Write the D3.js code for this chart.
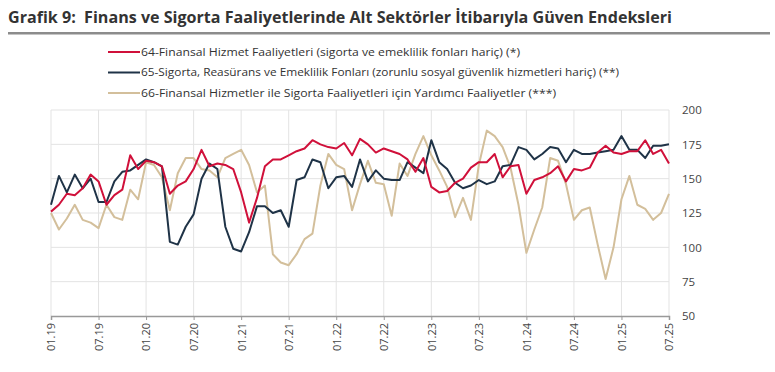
<!DOCTYPE html>
<html><head><meta charset="utf-8">
<script src="https://cdn.jsdelivr.net/npm/d3@7"></script>
<style>
html,body{margin:0;padding:0;background:#fff;}
svg{display:block;font-family:"Open Sans",sans-serif;}
</style></head>
<body><div id="chart"></div>
<script>
const months = [
"01.19","02.19","03.19","04.19","05.19","06.19","07.19","08.19","09.19","10.19","11.19","12.19",
"01.20","02.20","03.20","04.20","05.20","06.20","07.20","08.20","09.20","10.20","11.20","12.20",
"01.21","02.21","03.21","04.21","05.21","06.21","07.21","08.21","09.21","10.21","11.21","12.21",
"01.22","02.22","03.22","04.22","05.22","06.22","07.22","08.22","09.22","10.22","11.22","12.22",
"01.23","02.23","03.23","04.23","05.23","06.23","07.23","08.23","09.23","10.23","11.23","12.23",
"01.24","02.24","03.24","04.24","05.24","06.24","07.24","08.24","09.24","10.24","11.24","12.24",
"01.25","02.25","03.25","04.25","05.25","06.25","07.25"];
const tickLabels = ["01.19","07.19","01.20","07.20","01.21","07.21","01.22","07.22","01.23","07.23","01.24","07.24","01.25","07.25"];
const yTicks = [50,75,100,125,150,175,200];

const s64 = [126,131,139,138,143,153,148,131,138,142,167,157,
163,162,159,139,145,148,157,171,159,161,160,157,
140,118,136,159,164,164,167,170,172,178,175,173,
172,176,167,179,175,169,172,170,168,164,155,165,
144,140,141,147,150,158,162,162,168,151,159,160,
139,149,151,154,159,148,157,156,158,169,174,169,
168,170,170,178,168,171,161];
const s65 = [131,152,140,153,143,150,133,133,148,155,156,160,
164,162,159,104,102,115,124,150,161,157,115,99,
97,111,130,130,125,127,115,149,151,164,162,143,
151,152,144,164,148,156,150,149,149,162,158,154,
178,162,157,147,143,145,149,146,148,159,160,173,
171,164,168,173,172,162,171,168,168,169,170,171,
181,171,171,165,174,174,175];
const s66 = [125,113,121,131,120,118,114,131,122,120,142,135,
162,160,151,127,154,165,165,157,156,151,165,168,
171,160,140,145,95,89,87,95,106,110,145,168,
160,157,127,146,163,147,146,123,161,152,168,181,
167,156,144,122,136,120,160,185,181,173,158,131,
96,113,129,165,163,146,120,127,129,102,77,100,
135,152,131,128,120,125,139];

const seriesNames = [
"64-Finansal Hizmet Faaliyetleri (sigorta ve emeklilik fonları hariç) (*)",
"65-Sigorta, Reasürans ve Emeklilik Fonları (zorunlu sosyal güvenlik hizmetleri hariç) (**)",
"66-Finansal Hizmetler ile Sigorta Faaliyetleri için Yardımcı Faaliyetler (***)"];
const seriesValues = [s64, s65, s66];
const colors = ["#d0103a","#1f3347","#d3bf9b"];
const legendWidths = [379, 478, 415];

const W = 775, H = 372;
const svg = d3.select("#chart").append("svg").attr("width", W).attr("height", H);

// title
svg.append("text").attr("x", 8).attr("y", 23)
  .attr("font-size", 15.5).attr("font-weight", 700).attr("fill", "#333")
  .attr("textLength", 664).attr("lengthAdjust", "spacingAndGlyphs")
  .attr("xml:space", "preserve")
  .text("Grafik 9:  Finans ve Sigorta Faaliyetlerinde Alt Sektörler İtibarıyla Güven Endeksleri");
svg.append("rect").attr("x", 8).attr("y", 32).attr("width", 762).attr("height", 2.5).attr("fill", "#8c8c8c");

// legend
const lg = svg.append("g");
seriesNames.forEach((n, i) => {
  const yy = 51 + i * 20.5;
  lg.append("line").attr("x1", 108).attr("x2", 140).attr("y1", yy + 1).attr("y2", yy + 1)
    .attr("stroke", colors[i]).attr("stroke-width", 2);
  lg.append("text").attr("x", 141).attr("y", yy + 4.5).attr("font-size", 11.5).attr("fill", "#333")
    .attr("textLength", legendWidths[i]).attr("lengthAdjust", "spacingAndGlyphs").text(n);
});

const x = d3.scalePoint().domain(months).range([51, 669]);
const y = d3.scaleLinear().domain([50, 200]).range([316, 110]);

// grid
const g = svg.append("g");
g.selectAll("line.hg").data(yTicks.filter(v => v > 50)).enter().append("line")
  .attr("x1", 51).attr("x2", 669).attr("y1", d => y(d)).attr("y2", d => y(d))
  .attr("stroke", "#e3e3e3").attr("stroke-width", 1);
g.selectAll("line.vg").data(tickLabels).enter().append("line")
  .attr("x1", d => x(d)).attr("x2", d => x(d)).attr("y1", y(200)).attr("y2", y(50))
  .attr("stroke", "#e3e3e3").attr("stroke-width", 1);

// x axis
const xAxis = d3.axisBottom(x).tickValues(tickLabels).tickSize(4).tickPadding(4);
const xg = svg.append("g").attr("transform", `translate(0,${y(50)})`).call(xAxis);
xg.select(".domain").attr("stroke", "#999").attr("stroke-width", 1.5);
xg.selectAll(".tick line").attr("stroke", "#999");
xg.selectAll(".tick text").attr("font-size", 11).attr("fill", "#444")
  .attr("font-family", "Open Sans, sans-serif")
  .attr("transform", "rotate(-90)").attr("text-anchor", "end")
  .attr("x", -7).attr("y", 0).attr("dy", "0.35em");

// y axis (right)
const yAxis = d3.axisRight(y).tickValues(yTicks).tickSize(0).tickPadding(12);
const yg = svg.append("g").attr("transform", `translate(670,0)`).call(yAxis);
yg.select(".domain").remove();
yg.selectAll(".tick text").attr("font-size", 11.5).attr("fill", "#444").attr("font-family", "Open Sans, sans-serif");

// lines
const line = d3.line().x((d, i) => x(months[i])).y(d => y(d));
[2, 1, 0].forEach(k => {
  svg.append("path").datum(seriesValues[k]).attr("d", line)
    .attr("fill", "none").attr("stroke", colors[k]).attr("stroke-width", 2)
    .attr("stroke-linejoin", "round");
});
</script></body></html>
